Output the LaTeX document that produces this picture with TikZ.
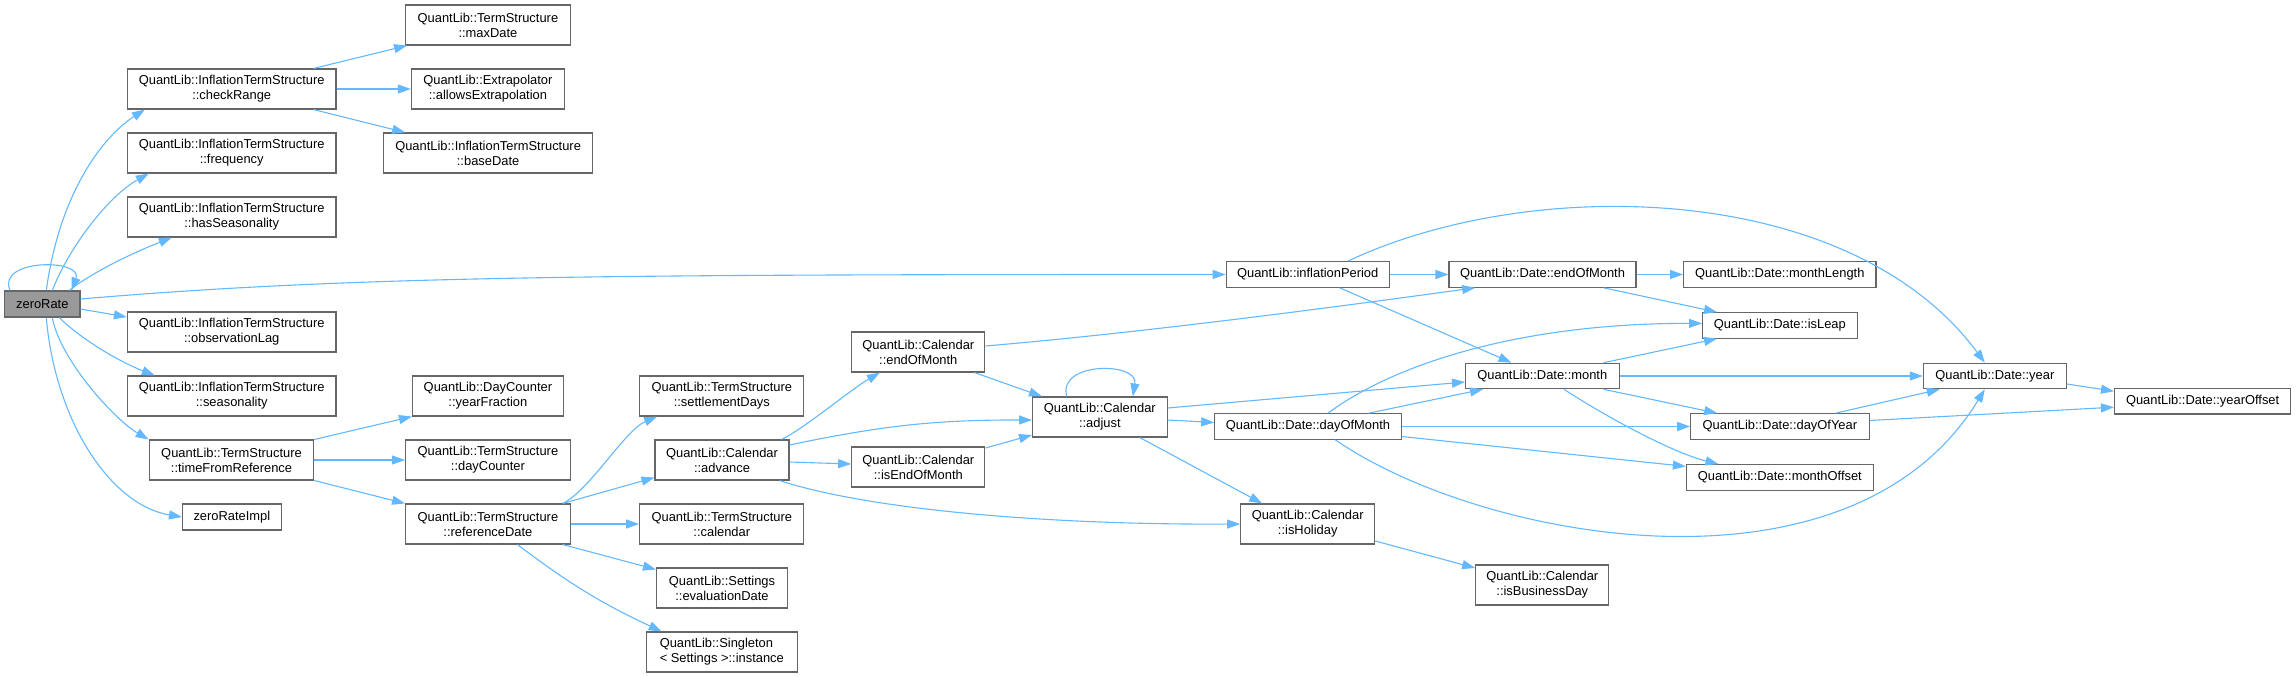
\documentclass[tikz,border=0pt]{standalone}
\usepackage{fontspec}
\setmainfont{Liberation Sans}
\usetikzlibrary{arrows.meta}
\definecolor{callblue}{HTML}{63B8FF}
\definecolor{boxline}{HTML}{666666}
\definecolor{rootfill}{HTML}{999999}

\begin{document}
\begin{tikzpicture}[
      x=1pt, y=-1pt,
      fn/.style={draw=boxline, line width=1.1pt, fill=white, inner sep=0pt, align=center, font=\fontsize{12.9}{15}\selectfont},
      root/.style={fn, fill=rootfill},
      call/.style={draw=callblue, line width=1.1pt, -{Triangle[length=13pt, width=9pt]}}
    ]
    \useasboundingbox (0,0) rectangle (2296,677);

    \node[root, minimum width=75.4, minimum height=26] (zeroRate) at (42.3,304) {zeroRate};

    \node[fn, minimum width=208.6, minimum height=40] (checkRange) at (231.7,89) {QuantLib::InflationTermStructure\\::checkRange};
    \node[fn, minimum width=208.6, minimum height=40] (frequency) at (231.7,153) {QuantLib::InflationTermStructure\\::frequency};
    \node[fn, minimum width=208.6, minimum height=40] (hasSeasonality) at (231.7,217) {QuantLib::InflationTermStructure\\::hasSeasonality};
    \node[fn, minimum width=208.6, minimum height=40] (observationLag) at (231.7,332) {QuantLib::InflationTermStructure\\::observationLag};
    \node[fn, minimum width=208.6, minimum height=40] (seasonality) at (231.7,396) {QuantLib::InflationTermStructure\\::seasonality};
    \node[fn, minimum width=164.6, minimum height=40] (timeFromRef) at (231.5,460) {QuantLib::TermStructure\\::timeFromReference};
    \node[fn, minimum width=98.8, minimum height=26] (zeroRateImpl) at (231.9,517) {zeroRateImpl};

    \node[fn, minimum width=164.6, minimum height=40] (maxDate) at (487.9,25) {QuantLib::TermStructure\\::maxDate};
    \node[fn, minimum width=153, minimum height=40] (allowsExtrap) at (487.9,89) {QuantLib::Extrapolator\\::allowsExtrapolation};
    \node[fn, minimum width=208.6, minimum height=40] (baseDate) at (488.1,153) {QuantLib::InflationTermStructure\\::baseDate};
    \node[fn, minimum width=150.8, minimum height=40] (yearFraction) at (487.9,396) {QuantLib::DayCounter\\::yearFraction};
    \node[fn, minimum width=164.6, minimum height=40] (dayCounter) at (487.9,460) {QuantLib::TermStructure\\::dayCounter};
    \node[fn, minimum width=164.6, minimum height=40] (referenceDate) at (487.9,524) {QuantLib::TermStructure\\::referenceDate};

    \node[fn, minimum width=164.2, minimum height=40] (settlementDays) at (721.8,396) {QuantLib::TermStructure\\::settlementDays};
    \node[fn, minimum width=134, minimum height=40] (advance) at (722,460) {QuantLib::Calendar\\::advance};
    \node[fn, minimum width=164.2, minimum height=40] (calendar) at (721.8,524) {QuantLib::TermStructure\\::calendar};
    \node[fn, minimum width=131, minimum height=40] (evalDate) at (722,588) {QuantLib::Settings\\::evaluationDate};
    \node[fn, minimum width=151.2, minimum height=40, align=left] (instance) at (721.8,652) {QuantLib::Singleton\\< Settings >::instance};

    \node[fn, minimum width=133.2, minimum height=40] (calEndOfMonth) at (918.3,352) {QuantLib::Calendar\\::endOfMonth};
    \node[fn, minimum width=133.2, minimum height=40] (isEndOfMonth) at (918.3,467) {QuantLib::Calendar\\::isEndOfMonth};
    \node[fn, minimum width=134.5, minimum height=40] (adjust) at (1099.8,417) {QuantLib::Calendar\\::adjust};

    \node[fn, minimum width=163, minimum height=25.5] (inflationPeriod) at (1307.7,274.5) {QuantLib::inflationPeriod};
    \node[fn, minimum width=186.3, minimum height=25.5] (dayOfMonth) at (1307.9,426.5) {QuantLib::Date::dayOfMonth};
    \node[fn, minimum width=134, minimum height=40] (isHoliday) at (1307.7,524) {QuantLib::Calendar\\::isHoliday};

    \node[fn, minimum width=187, minimum height=25.5] (dateEndOfMonth) at (1542.5,274.5) {QuantLib::Date::endOfMonth};
    \node[fn, minimum width=153.5, minimum height=25.5] (month) at (1542.3,376) {QuantLib::Date::month};
    \node[fn, minimum width=133.2, minimum height=40] (isBusinessDay) at (1542.3,585) {QuantLib::Calendar\\::isBusinessDay};

    \node[fn, minimum width=192.4, minimum height=25.5] (monthLength) at (1779.8,274.5) {QuantLib::Date::monthLength};
    \node[fn, minimum width=154.5, minimum height=25.5] (isLeap) at (1779.8,325.4) {QuantLib::Date::isLeap};
    \node[fn, minimum width=178.3, minimum height=25.5] (dayOfYear) at (1779.9,426.5) {QuantLib::Date::dayOfYear};
    \node[fn, minimum width=186.8, minimum height=25.5] (monthOffset) at (1779.8,477.4) {QuantLib::Date::monthOffset};

    \node[fn, minimum width=143, minimum height=25.5] (year) at (1994.8,376) {QuantLib::Date::year};
    \node[fn, minimum width=176.2, minimum height=25.5] (yearOffset) at (2202.6,401.2) {QuantLib::Date::yearOffset};

    \draw[call] ([xshift=6]zeroRate.north west) .. controls +(-14,-32) and +(12,-32) .. ([xshift=-9]zeroRate.north east);
    \draw[call] ([xshift=4]zeroRate.north) .. controls (60,190) and (105,135) .. ([xshift=18]checkRange.south west);
    \draw[call] ([xshift=10]zeroRate.north) .. controls (70,245) and (110,195) .. ([xshift=22]frequency.south west);
    \draw[call] ([xshift=27]zeroRate.north) .. controls (95,270) and (140,250) .. ([xshift=45]hasSeasonality.south west);
    \draw[call] ([yshift=5]zeroRate.east) .. controls (350,276) and (600,274.5) .. (inflationPeriod.west);
    \draw[call] ([yshift=-5]zeroRate.east) -- ([yshift=15]observationLag.west);
    \draw[call] ([xshift=17]zeroRate.south) .. controls (82,340) and (120,362) .. ([xshift=28]seasonality.north west);
    \draw[call] ([xshift=10]zeroRate.south) .. controls (60,360) and (115,420) .. (timeFromRef.north west);
    \draw[call] ([xshift=4]zeroRate.south) .. controls (55,420) and (110,505) .. (zeroRateImpl.west);

    \draw[call] ([xshift=-23]checkRange.north east) -- ([xshift=2]maxDate.south west);
    \draw[call] (checkRange.east) -- (allowsExtrap.west);
    \draw[call] ([xshift=-23]checkRange.south east) -- ([xshift=22]baseDate.north west);

    \draw[call] (timeFromRef.north east) -- (yearFraction.south west);
    \draw[call] (timeFromRef.east) -- (dayCounter.west);
    \draw[call] (timeFromRef.south east) -- (referenceDate.north west);

    \draw[call] ([xshift=-8]referenceDate.north east) .. controls (590,490) and (625,430) .. ([xshift=18]settlementDays.south west);
    \draw[call] ([xshift=-8]referenceDate.north east) -- ([yshift=3]advance.south west);
    \draw[call] (referenceDate.east) -- (calendar.west);
    \draw[call] ([xshift=-8]referenceDate.south east) -- ([yshift=-2]evalDate.north west);
    \draw[call] ([xshift=29.5]referenceDate.south) to[bend right=6] ([xshift=16]instance.north west);

    \draw[call] ([xshift=-8]advance.north east) .. controls (805,428) and (850,390) .. ([xshift=28.7]calEndOfMonth.south west);
    \draw[call] ([yshift=15]advance.east) to[bend left=6] ([yshift=-3]adjust.west);
    \draw[call] ([yshift=-2]advance.east) -- ([yshift=3]isEndOfMonth.west);
    \draw[call] ([xshift=-10]advance.south east) .. controls (870,510) and (1050,525) .. (isHoliday.west);

    \draw[call] ([xshift=-11]calEndOfMonth.south east) -- ([xshift=10]adjust.north west);
    \draw[call] ([yshift=6]calEndOfMonth.east) .. controls (1150,332) and (1350,305) .. ([xshift=26.7]dateEndOfMonth.south west);
    \draw[call] ([yshift=19]isEndOfMonth.east) -- ([yshift=-18]adjust.west);

    \draw[call] ([xshift=-33]adjust.north) .. controls +(-10,-35) and +(6,-35) .. ([xshift=33]adjust.north);
    \draw[call] ([yshift=9]adjust.east) -- ([yshift=-6]month.west);
    \draw[call] ([yshift=-3]adjust.east) -- ([yshift=4]dayOfMonth.west);
    \draw[call] ([xshift=40]adjust.south) -- ([xshift=22]isHoliday.north west);

    \draw[call] (inflationPeriod.east) -- (dateEndOfMonth.west);
    \draw[call] ([xshift=32]inflationPeriod.south) -- ([xshift=46.5]month.north west);
    \draw[call] ([xshift=40]inflationPeriod.north) .. controls (1530,175) and (1850,180) .. ([xshift=-10]year.north);

    \draw[call] (dateEndOfMonth.east) -- (monthLength.west);
    \draw[call] ([xshift=-33]dateEndOfMonth.south east) -- ([xshift=15]isLeap.north west);

    \draw[call] ([xshift=20]dayOfMonth.north) .. controls (1400,360) and (1530,323) .. ([yshift=2]isLeap.west);
    \draw[call] ([xshift=60.7]dayOfMonth.north) -- ([xshift=18]month.south west);
    \draw[call] (dayOfMonth.east) -- (dayOfYear.west);
    \draw[call] ([yshift=-10]dayOfMonth.east) -- ([yshift=11]monthOffset.west);
    \draw[call] ([xshift=27.4]dayOfMonth.south) .. controls (1480,540) and (1850,610) .. ([xshift=-10]year.south);

    \draw[call] ([xshift=-16]month.north east) -- ([xshift=15]isLeap.south west);
    \draw[call] (month.east) -- (year.west);
    \draw[call] ([xshift=-16]month.south east) -- ([xshift=27]dayOfYear.north west);
    \draw[call] ([xshift=21.7]month.south) .. controls (1600,413) and (1670,452) .. ([xshift=32.6]monthOffset.north west);

    \draw[call] ([xshift=55.5]dayOfYear.north) -- ([xshift=17]year.south west);
    \draw[call] ([yshift=6]dayOfYear.east) -- ([yshift=-6]yearOffset.west);
    \draw[call] ([yshift=-8]year.east) -- ([yshift=10]yearOffset.west);
    \draw[call] ([yshift=-17]isHoliday.east) -- ([yshift=17]isBusinessDay.west);
  \end{tikzpicture}
\end{document}
